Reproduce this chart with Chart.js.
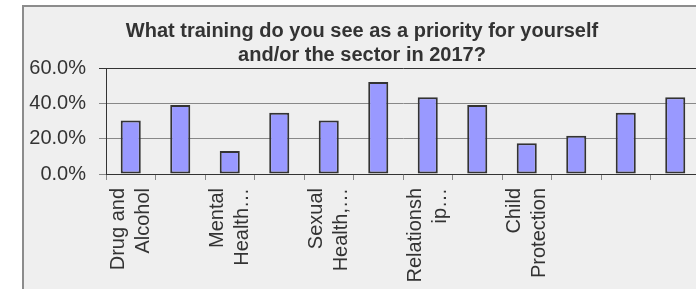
<!DOCTYPE html>
<html>
<head>
<meta charset="utf-8">
<script src="https://cdn.jsdelivr.net/npm/chart.js@4/dist/chart.umd.min.js"></script>
<style>
  html, body { margin: 0; padding: 0; background: #fff; overflow: hidden; width: 696px; height: 289px; }
  .frame { position: absolute; left: 22px; top: 5px; width: 740px; height: 330px; border: 2px solid #8c8c8c; background: #efefef; }
  canvas { position: absolute; left: 0; top: 0; }
</style>
</head>
<body>
<div class="frame"><canvas id="myChart" width="700" height="320"></canvas></div>
<script>
// question categories (only some labels are visible in the original)
const labels = [
  ["Drug and", "Alcohol"], "", ["Mental", "Health…"], "",
  ["Sexual", "Health,…"], "", ["Relationsh", "ip…"], "",
  ["Child", "Protection"], "", "", ""
];
// share of respondents (%)
const values = [30.4, 39.1, 13.0, 34.8, 30.4, 52.2, 43.5, 39.1, 17.4, 21.7, 34.8, 43.5];
const yTicks = [0, 20, 40, 60];
const titleLines = [
  "What training do you see as a priority for yourself",
  "and/or the sector in 2017?"
];

const data = {
  labels,
  datasets: [
    {
      data: values,
      backgroundColor: "#9999ff",
      borderColor: "#333333",
      borderWidth: 2,
      borderSkipped: false,
      categoryPercentage: 1,
      barPercentage: 0.405,
    },
  ],
};

const config = {
  type: "bar",
  data,
  options: {
    responsive: false,
    devicePixelRatio: 1,
    animation: false,
    layout: { padding: { left: 0, right: 24, top: 0, bottom: 0 } },
    plugins: {
      legend: { display: false },
      tooltip: { enabled: false },
      title: {
        display: true,
        text: titleLines,
        color: "#333333",
        font: { family: "Liberation Sans", size: 20, weight: "bold", lineHeight: 1.23 },
        padding: { top: 12, bottom: 0 },
      },
    },
    scales: {
      x: {
        afterFit: (s) => { s.height = 153; },
        grid: { offset: true, drawOnChartArea: false, drawTicks: true, tickLength: 6, color: "#888888" },
        border: { display: true, color: "#333333", width: 1 },
        ticks: {
          autoSkip: false,
          minRotation: 90,
          maxRotation: 90,
          padding: 8,
          labelOffset: -12,
          color: "#333333",
          font: { family: "Liberation Sans", size: 20, lineHeight: 1.25 },
        },
      },
      y: {
        min: 0,
        max: 60,
        afterFit: (s) => { s.width = 82; },
        afterBuildTicks: (s) => { s.ticks = yTicks.map((v) => ({ value: v })); },
        grid: {
          tickLength: 7,
          color: (c) => (c.tick && c.tick.value === 60 ? "#333333" : "#888888"),
        },
        border: { display: true, color: "#333333", width: 1 },
        ticks: {
          padding: 13,
          color: "#333333",
          font: { family: "Liberation Sans", size: 20 },
          callback: (v) => v.toFixed(1) + "%",
        },
      },
    },
  },
};

const myChart = new Chart(document.getElementById("myChart"), config);
</script>
</body>
</html>
